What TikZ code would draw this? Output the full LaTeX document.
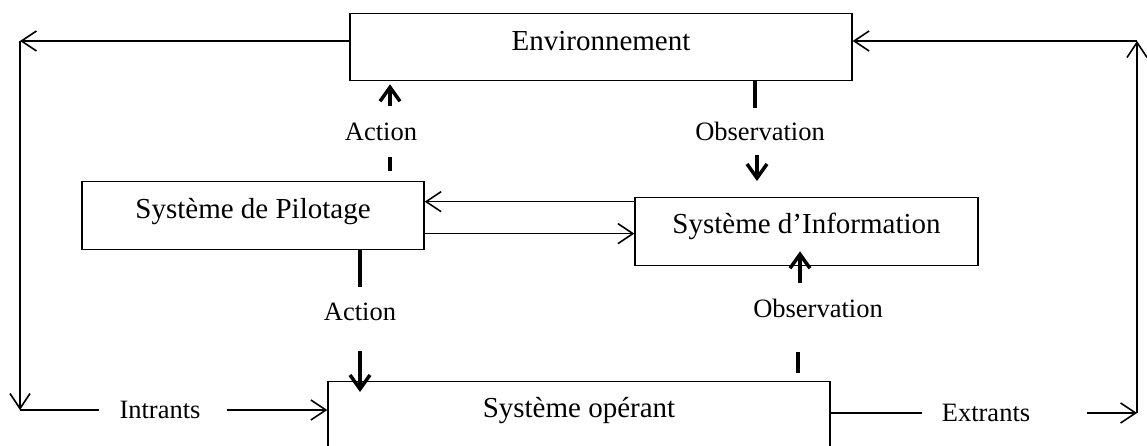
\documentclass[tikz,border=0pt]{standalone}
\usepackage{fontspec}
\setmainfont{Liberation Serif}
\usetikzlibrary{arrows.meta,positioning}

\begin{document}
\begin{tikzpicture}[x=1pt,y=-1pt,
  sysbox/.style={draw,line width=1.3pt,inner sep=0pt,anchor=north,text height=37pt,text depth=31pt,font=\fontsize{29}{34}\selectfont},
  lbl/.style={inner sep=0pt,font=\fontsize{26.5}{30}\selectfont},
  flowlbl/.style={inner ysep=0pt,inner xsep=20pt,font=\fontsize{26.5}{30}\selectfont},
  flow/.style={line width=1.6pt,-{Straight Barb[length=15pt,width=20pt]}},
  plain/.style={line width=1.6pt},
  bar/.style={line width=3.5pt},
  bararrow/.style={line width=3.5pt,-{Straight Barb[length=14pt,width=20pt]}}]

\clip (0,0) rectangle (1147,446);
\fill[white] (0,0) rectangle (1147,446);

% Systems
\node[sysbox,minimum width=502pt,text depth=30pt] (env) at (601,13) {Environnement};
\node[sysbox,minimum width=342pt] (pilotage) at (253,181) {Système de Pilotage};
\node[sysbox,minimum width=343pt,text height=36pt,text depth=32pt] (info) at (806.5,197) {Système d’Information};
\node[sysbox,minimum width=502pt,text height=36pt,text depth=80pt] (operant) at (579,381) {Système opérant};

% Labels
\node[lbl] (actup) at (381,132) {Action};
\node[lbl] (obsup) at (760,131) {Observation};
\node[lbl] (actdown) at (360,312) {Action};
\node[lbl] (obsdown) at (818,308) {Observation};
\node[flowlbl] (intrants) at (160,410) {Intrants};
\node[flowlbl] (extrants) at (986,413) {Extrants};

% Corners of the outer loop
\coordinate (tl) at (20,41);
\coordinate (bl) at (20,410);
\coordinate (tr) at (1137,41);
\coordinate (br) at (1137,413);

% Outer loop
\draw[flow] (env.west |- tl) -- (tl);
\draw[flow] (tl) -- (bl);
\draw[plain] (bl) -- (intrants.west);
\draw[flow] ([xshift=6pt]intrants.east) -- (operant.west |- intrants);
\draw[plain] (operant.east |- extrants) -- (extrants.west);
\draw[flow] ([xshift=37pt]extrants.east) -- (br);
\draw[flow] (br) -- (tr);
\draw[flow] (tr) -- (env.east |- tr);

% Pilotage <-> Information
\draw[flow] ([yshift=30pt]info.west) -- ([yshift=30pt]info.west -| pilotage.east);
\draw[flow] ([yshift=-18pt]pilotage.east) -- ([yshift=-18pt]pilotage.east -| info.west);

% Action / Observation
\draw[bar] (pilotage.north -| 390,0) ++(0,-10) -- ++(0,-14);
\draw[bararrow] (env.south -| 390,0) ++(0,25) -- ++(0,-22);
\draw[bar] (env.south -| 755,0) -- ++(0,27);
\draw[bararrow] (info.north -| 757,0) ++(0,-42) -- ++(0,26);
\draw[bar] (pilotage.south -| 360,0) -- ++(0,37);
\draw[bararrow] (operant.north -| 360,0) ++(0,-30) -- ++(0,41);
\draw[bar] (operant.north -| 798,0) ++(0,-8) -- ++(0,-21);
\draw[bararrow] (info.south -| 800,0) ++(0,17) -- ++(0,-32);
\end{tikzpicture}
\end{document}
